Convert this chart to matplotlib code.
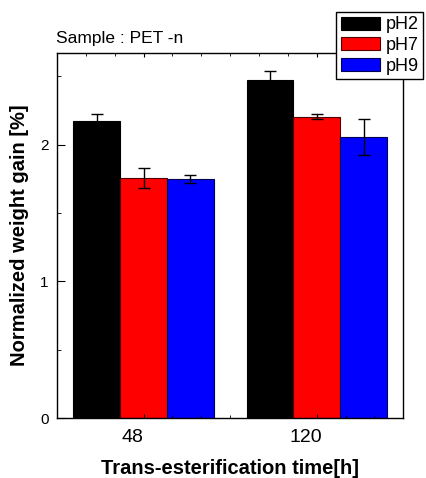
import matplotlib.pyplot as plt
import matplotlib.transforms as mtransforms
import numpy as np

plt.rcParams['font.family'] = ['Liberation Sans', 'DejaVu Sans']

groups = ['48', '120']
series = ['pH2', 'pH7', 'pH9']
colors = ['#000000', '#ff0000', '#0000ff']
edges = ['#000000', '#500000', '#000050']
values = {
    'pH2': [2.17, 2.47],
    'pH7': [1.755, 2.205],
    'pH9': [1.747, 2.057],
}
errors = {
    'pH2': [0.055, 0.07],
    'pH7': [0.072, 0.02],
    'pH9': [0.03, 0.13],
}

fig = plt.figure(figsize=(4.26, 4.78), dpi=100)
ax = fig.add_axes([0.1338, 0.1255, 0.813, 0.7636])

x = np.arange(len(groups))
w = 0.27
for i, s in enumerate(series):
    ax.bar(x + (i - 1) * w, values[s], w, color=colors[i], edgecolor=edges[i],
           linewidth=0.8, label=s)
    ax.errorbar(x + (i - 1) * w, values[s], yerr=errors[s], fmt='none',
                ecolor='black', elinewidth=1, capsize=4, capthick=1)

ax.set_xlim(-0.5, 1.5)
ax.set_ylim(0, 2.67)
ax.set_xticks(x)
ax.set_xticklabels(groups, fontsize=14)
ax.set_yticks([0, 1, 2])
ax.set_yticks([0.5, 1.5, 2.5], minor=True)
ax.set_xticks(np.arange(-0.5, 1.51, 1 / 6), minor=True)
ax.tick_params(axis='y', which='major', direction='in', length=6, labelsize=11, pad=6)
ax.tick_params(axis='y', which='minor', direction='in', length=3)
ax.tick_params(axis='x', which='major', direction='in', length=3, pad=8)
ax.tick_params(axis='x', which='minor', direction='in', length=2, top=True)
ax.tick_params(axis='x', which='major', top=True)
for sp in ax.spines.values():
    sp.set_linewidth(1.0)

# labels sit a bit left of the group centres in the original
shift = mtransforms.ScaledTranslation(-11 / 100, 0, fig.dpi_scale_trans)
for lab in ax.get_xticklabels():
    lab.set_transform(lab.get_transform() + shift)

ax.set_xlabel('Trans-esterification time[h]', fontsize=14.5, fontweight='bold', labelpad=9)
ax.set_ylabel('Normalized weight gain [%]', fontsize=14.5, fontweight='bold', labelpad=8)

fig.text(0.131, 0.91, 'Sample : PET -n', fontsize=12.5, ha='left', va='baseline')

leg = fig.legend(loc='upper left', bbox_to_anchor=(0.789, 0.975), fontsize=13,
                 frameon=True, fancybox=False, edgecolor='black', framealpha=1,
                 handlelength=2.2, handleheight=0.75, handletextpad=0.3,
                 borderpad=0.25, labelspacing=0.2, borderaxespad=0)
leg.get_frame().set_linewidth(1.0)

fig.savefig('out.png', dpi=100)
